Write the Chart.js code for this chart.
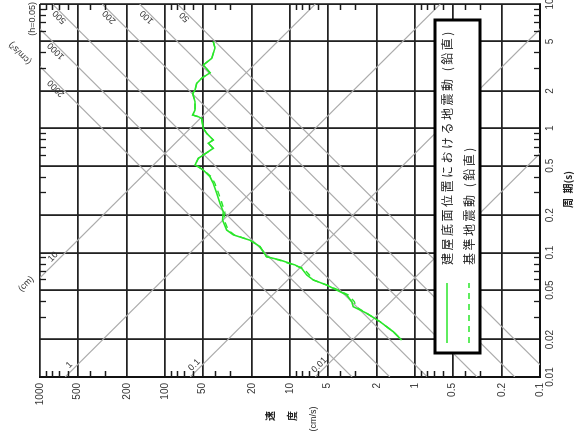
<!DOCTYPE html>
<html>
<head>
<meta charset="utf-8">
<script src="https://cdn.jsdelivr.net/npm/chart.js@4.4.1/dist/chart.umd.min.js"></script>
<style>
  html, body { margin: 0; padding: 0; background: #fff; overflow: hidden; }
  body { width: 576px; height: 441px; position: relative; }
  /* 元の図は縦長なので横向きに回して貼る */
  #wrap { position: absolute; left: 0; top: 0; width: 441px; height: 576px;
          transform-origin: 0 0; transform: translateY(441px) rotate(-90deg); }
</style>
</head>
<body>
<div id="wrap"><canvas id="spectrum" width="441" height="576"></canvas></div>
<script>
// 周期 (s)
const periods = [4.98, 4.43, 3.66, 3.23, 2.80, 2.53, 2.30, 2.03, 1.91, 1.64, 1.40, 1.28, 1.24, 1.20, 1.00,
  0.912, 0.806, 0.758, 0.691, 0.610, 0.574, 0.507, 0.491, 0.462, 0.408, 0.361, 0.300, 0.249, 0.214, 0.183,
  0.152, 0.139, 0.126, 0.112, 0.0928, 0.0873, 0.0796, 0.0748, 0.0661, 0.0603, 0.0549, 0.0501, 0.0457,
  0.0403, 0.0368, 0.0325, 0.0279, 0.0231, 0.0198];
// 建屋底面位置における地震動 速度 (cm/s)
const svBuilding = [41.1, 39.8, 42.3, 49.4, 43.6, 50.9, 55.8, 57.5, 60.0, 57.5, 57.5, 60.0, 54.2, 50.9, 49.4,
  46.4, 41.1, 45.0, 41.1, 49.4, 54.2, 57.5, 54.2, 49.4, 43.6, 41.1, 38.6, 36.3, 34.2, 34.6,
  32.1, 28.4, 20.9, 17.4, 15.4, 12.0, 9.12, 8.06, 7.35, 6.51, 5.09, 4.23, 3.52,
  3.21, 3.12, 2.43, 1.91, 1.49, 1.28];
// 基準地震動 速度 (cm/s)
const svFreeField = [41.1, 39.8, 42.3, 49.4, 43.6, 50.9, 55.8, 57.5, 60.0, 57.5, 57.5, 60.0, 54.2, 50.9, 49.4,
  46.4, 41.1, 45.0, 41.1, 49.4, 54.2, 57.5, 54.2, 49.4, 42.6, 39.9, 37.2, 35.0, 33.2, 33.6,
  31.2, 27.9, 20.9, 17.4, 15.4, 12.3, 9.4, 7.8, 7.0, 6.51, 5.09, 4.1, 3.42,
  3.05, 2.98, 2.43, 1.91, 1.49, 1.28];
const legendLabels = ['建屋底面位置における地震動 (鉛直)', '基準地震動 (鉛直)'];

const periodTicks = [0.01, 0.02, 0.05, 0.1, 0.2, 0.5, 1, 2, 5, 10];
const periodTickLabels = ['0.01', '0.02', '0.05', '0.1', '0.2', '0.5', '1', '2', '5', '10'];
const velocityTicks = [0.1, 0.2, 0.5, 1, 2, 5, 10, 20, 50, 100, 200, 500, 1000];
const velocityTickLabels = ['0.1', '0.2', '0.5', '1', '2', '5', '10', '20', '50', '100', '200', '500', '1000'];

// 斜めの補助線 (加速度 cm/s², 変位 cm)
const accelLines = [50, 100, 200, 500, 1000, 2000];
const accelLabels = ['50', '100', '200', '500', '1000', '2000'];
const dispLines = [0.01, 0.1, 1, 10];
const dispLabels = ['0.01', '0.1', '1', '10'];

const TWO_PI = 2 * Math.PI;
const green = '#2ae62a';
const tickFont = { family: '"Liberation Sans", Arial, sans-serif', size: 10 };
const minorSteps = [3, 4, 6, 7, 8, 9];

function minorValues(min, max) {
    const out = [];
    for (let d = min; d < max; d *= 10) {
        minorSteps.forEach(m => out.push(d * m));
    }
    return out;
}

function rotatedText(ctx, text, px, py, angle) {
    ctx.save();
    ctx.translate(px, py);
    ctx.rotate(angle);
    ctx.textAlign = 'center';
    ctx.textBaseline = 'middle';
    ctx.fillText(text, 0, 0);
    ctx.restore();
}

// 斜め線 (等加速度・等変位) とそのラベル
const tripartiteLines = {
    id: 'tripartiteLines',
    beforeDatasetsDraw(chart) {
        const { ctx, chartArea: a, scales: { x, y } } = chart;
        const t0 = x.min, t1 = x.max;
        ctx.save();
        ctx.beginPath();
        ctx.rect(a.left, a.top, a.right - a.left, a.bottom - a.top);
        ctx.clip();
        ctx.strokeStyle = '#ababab';
        ctx.lineWidth = 1.2;
        accelLines.forEach(acc => {
            ctx.beginPath();
            ctx.moveTo(x.getPixelForValue(t0), y.getPixelForValue(acc * t0 / TWO_PI));
            ctx.lineTo(x.getPixelForValue(t1), y.getPixelForValue(acc * t1 / TWO_PI));
            ctx.stroke();
        });
        dispLines.forEach(d => {
            ctx.beginPath();
            ctx.moveTo(x.getPixelForValue(t0), y.getPixelForValue(TWO_PI * d / t0));
            ctx.lineTo(x.getPixelForValue(t1), y.getPixelForValue(TWO_PI * d / t1));
            ctx.stroke();
        });
        ctx.restore();

        ctx.save();
        ctx.fillStyle = '#333';
        ctx.font = '9px "Liberation Sans", Arial, sans-serif';
        accelLines.forEach((acc, i) => {
            let px = a.right - 11;
            let py = y.getPixelForValue(acc * x.getValueForPixel(px) / TWO_PI);
            if (py < a.top + 12) {
                py = a.top + 20;
                px = x.getPixelForValue(TWO_PI * y.getValueForPixel(py) / acc);
            }
            rotatedText(ctx, accelLabels[i], px - 2, py - 4, -Math.PI / 4);
        });
        dispLines.forEach((d, i) => {
            let px = a.left + 9;
            let py = y.getPixelForValue(TWO_PI * d / x.getValueForPixel(px));
            if (py < a.top + 12) {
                py = a.top + 18;
                px = x.getPixelForValue(TWO_PI * d / y.getValueForPixel(py));
            }
            rotatedText(ctx, dispLabels[i], px + 3, py - 5, Math.PI / 4);
        });
        rotatedText(ctx, '(cm)', a.left + 93, a.top - 14, Math.PI / 4);
        rotatedText(ctx, '(cm/s²)', a.right - 49, a.top - 20, -Math.PI / 4);
        ctx.textAlign = 'right';
        ctx.textBaseline = 'middle';
        ctx.fillText('(h=0.05)', a.right + 2, a.top - 7);
        ctx.restore();
    }
};

// 内向きの補助目盛り・凡例・軸タイトル
const frameExtras = {
    id: 'frameExtras',
    afterDatasetsDraw(chart) {
        const { ctx, chartArea: a, scales: { x, y } } = chart;
        ctx.save();
        ctx.strokeStyle = '#1a1a1a';
        ctx.lineWidth = 1.3;
        ctx.beginPath();
        minorValues(x.min, x.max).forEach(v => {
            const px = Math.round(x.getPixelForValue(v)) + 0.5;
            ctx.moveTo(px, a.top); ctx.lineTo(px, a.top + 6);
            ctx.moveTo(px, a.bottom); ctx.lineTo(px, a.bottom - 6);
        });
        minorValues(y.min, y.max).forEach(v => {
            const py = Math.round(y.getPixelForValue(v)) + 0.5;
            ctx.moveTo(a.left, py); ctx.lineTo(a.left + 6, py);
            ctx.moveTo(a.right, py); ctx.lineTo(a.right - 6, py);
        });
        ctx.stroke();

        // 凡例
        const boxL = a.left + 24, boxR = a.right - 16, boxT = a.bottom - 105, boxB = a.bottom - 60;
        ctx.fillStyle = '#fff';
        ctx.fillRect(boxL, boxT, boxR - boxL, boxB - boxT);
        ctx.strokeStyle = '#000';
        ctx.lineWidth = 3;
        ctx.strokeRect(boxL, boxT, boxR - boxL, boxB - boxT);
        chart.data.datasets.forEach((ds, i) => {
            const ly = boxT + 12 + i * 22;
            ctx.strokeStyle = ds.borderColor;
            ctx.lineWidth = 1.4;
            ctx.setLineDash(ds.borderDash || []);
            ctx.beginPath();
            ctx.moveTo(boxL + 10, ly);
            ctx.lineTo(boxL + 70, ly);
            ctx.stroke();
            ctx.setLineDash([]);
            ctx.fillStyle = '#222';
            ctx.font = '12px "Noto Sans CJK JP", sans-serif';
            ctx.letterSpacing = '2.5px';
            ctx.textAlign = 'left';
            ctx.textBaseline = 'middle';
            ctx.fillText(ds.label, boxL + 88, ly);
            ctx.letterSpacing = '0px';
        });

        // 軸タイトル
        ctx.fillStyle = '#222';
        ctx.textAlign = 'center';
        ctx.textBaseline = 'middle';
        const cy = (a.top + a.bottom) / 2;
        ctx.font = 'bold 10px "Noto Sans CJK JP", sans-serif';
        ctx.fillText('速', a.left - 39, cy - 20);
        ctx.fillText('度', a.left - 39, cy + 2);
        ctx.font = '9px "Liberation Sans", Arial, sans-serif';
        ctx.fillText('(cm/s)', a.left - 42, cy + 24);
        ctx.font = 'bold 10px "Noto Sans CJK JP", sans-serif';
        ctx.fillText('周  期(s)', (a.left + a.right) / 2 + 1, a.bottom + 28);
        ctx.restore();
    }
};

new Chart(document.getElementById('spectrum'), {
    type: 'line',
    data: {
        datasets: [{
            label: legendLabels[0],
            data: periods.map((t, i) => ({ x: t, y: svBuilding[i] })),
            borderColor: green,
            borderWidth: 1.6,
            pointRadius: 0,
            fill: false,
            tension: 0
        }, {
            label: legendLabels[1],
            data: periods.map((t, i) => ({ x: t, y: svFreeField[i] })),
            borderColor: green,
            borderWidth: 1.4,
            borderDash: [6, 5],
            pointRadius: 0,
            fill: false,
            tension: 0
        }]
    },
    options: {
        responsive: false,
        animation: false,
        devicePixelRatio: 1,
        layout: { padding: { left: 4, right: 4, top: 40, bottom: 4 } },
        plugins: { legend: { display: false }, tooltip: { enabled: false } },
        scales: {
            x: {
                type: 'logarithmic',
                position: 'bottom',
                min: 0.01,
                max: 10,
                afterBuildTicks: s => { s.ticks = periodTicks.map(v => ({ value: v })); },
                afterFit: s => { s.height = 32; s.paddingLeft = 0; s.paddingRight = 0; },
                grid: { color: '#222', lineWidth: 1.8, drawTicks: false },
                border: { color: '#111', width: 2 },
                ticks: {
                    autoSkip: false, minRotation: 0, maxRotation: 0, padding: 4,
                    color: '#333', font: tickFont,
                    callback: (v, i) => periodTickLabels[i]
                }
            },
            y: {
                type: 'logarithmic',
                position: 'left',
                min: 0.1,
                max: 1000,
                afterBuildTicks: s => { s.ticks = velocityTicks.map(v => ({ value: v })); },
                afterFit: s => { s.width = 60; s.paddingTop = 0; s.paddingBottom = 0; },
                grid: { color: '#222', lineWidth: 1.8, drawTicks: false },
                border: { color: '#111', width: 2 },
                ticks: {
                    autoSkip: false, padding: 6,
                    color: '#333', font: tickFont,
                    callback: (v, i) => velocityTickLabels[i]
                }
            }
        }
    },
    plugins: [tripartiteLines, frameExtras]
});
</script>
</body>
</html>
